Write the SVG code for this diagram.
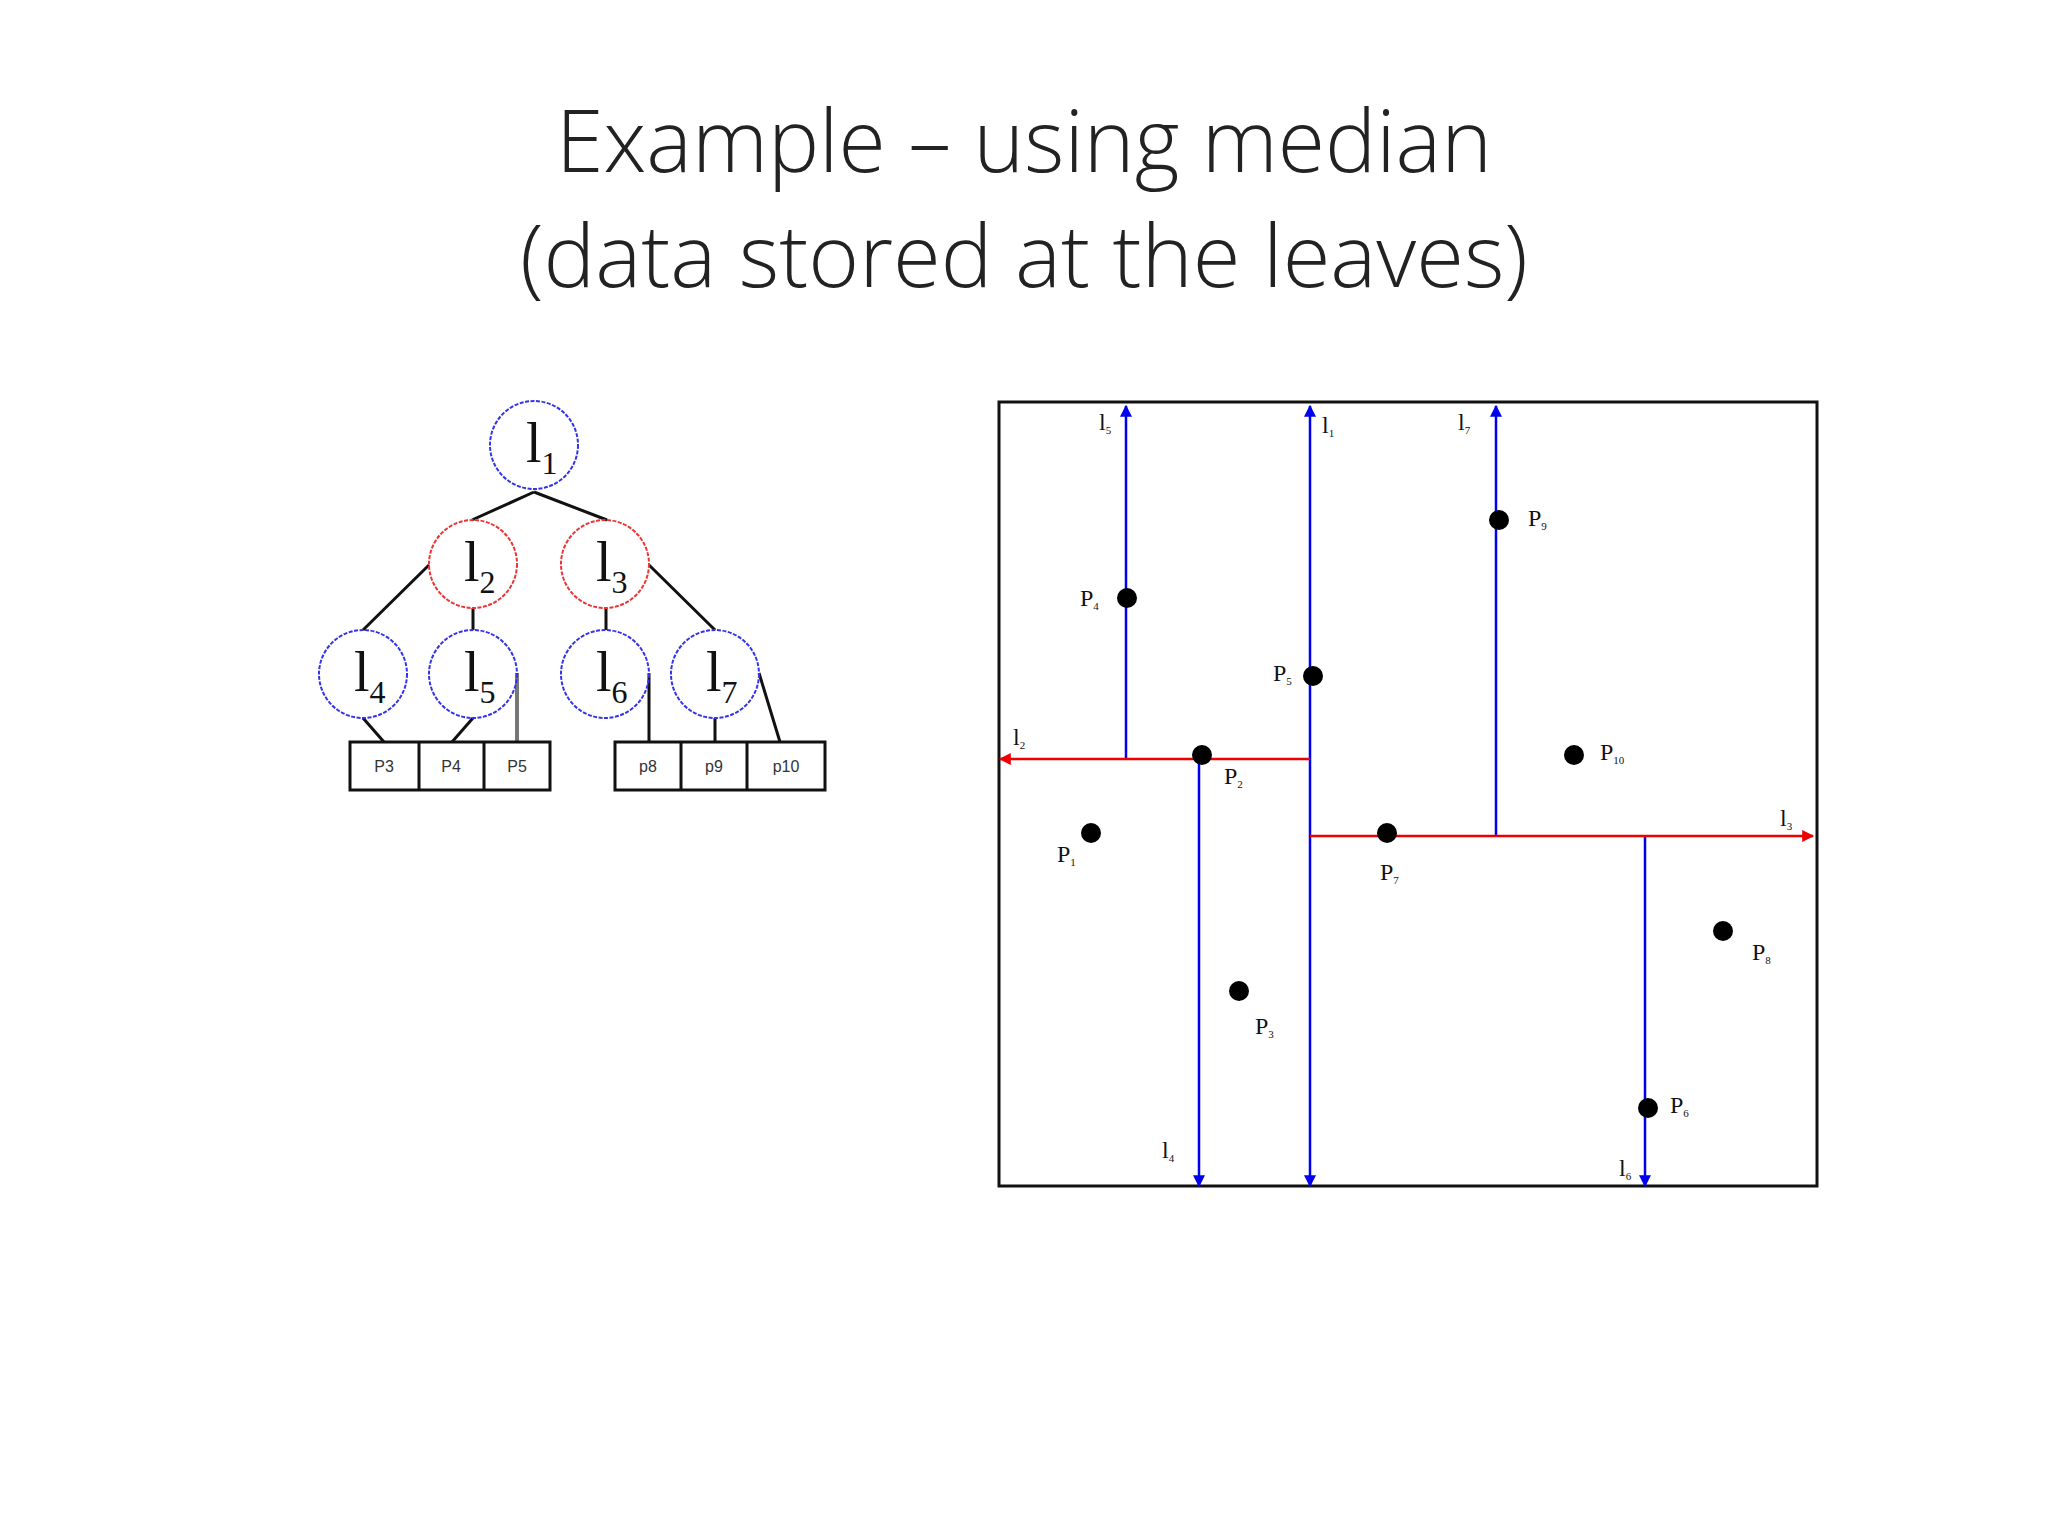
<svg xmlns="http://www.w3.org/2000/svg" width="2048" height="1536" viewBox="0 0 2048 1536">
<defs>
<marker id="ab" viewBox="0 0 10 10" refX="9" refY="5" markerWidth="20" markerHeight="12" markerUnits="userSpaceOnUse" orient="auto"><path d="M0,0 L10,5 L0,10 z" fill="#0000ee"/></marker>
<marker id="ar" viewBox="0 0 10 10" refX="9" refY="5" markerWidth="20" markerHeight="12" markerUnits="userSpaceOnUse" orient="auto"><path d="M0,0 L10,5 L0,10 z" fill="#ee0000"/></marker>
</defs>
<style>
.t{font-family:"Open Sans","Liberation Sans",sans-serif;font-weight:300;font-size:86px;fill:#222}
.cb{fill:none;stroke:#3333ee;stroke-width:2;stroke-dasharray:4 1.5}
.cr{fill:none;stroke:#ee3333;stroke-width:2;stroke-dasharray:4 1.5}
.e{stroke:#111;stroke-width:3;fill:none}
.nl{font-family:"Liberation Serif",serif;font-size:56px;fill:#111}
.ns{font-size:32px}
.bx{fill:#fff;stroke:#111;stroke-width:3}
.bt{font-family:"Liberation Sans",sans-serif;font-size:16px;fill:#333;text-anchor:middle}
.vb{stroke:#0000ee;stroke-width:2.5;fill:none}
.hr{stroke:#ee0000;stroke-width:2.5;fill:none}
.pt{fill:#000}
.pl{font-family:"Liberation Serif",serif;font-size:24px;fill:#111}
.ps{font-size:11px}
</style>
<rect width="2048" height="1536" fill="#fff"/>
<text class="t" x="1024" y="172" text-anchor="middle" textLength="936" lengthAdjust="spacingAndGlyphs">Example – using median</text>
<text class="t" x="1024" y="287" text-anchor="middle" textLength="1008" lengthAdjust="spacingAndGlyphs">(data stored at the leaves)</text>

<g id="tree-edges">
<path class="e" d="M534,492 L472,520 M534,492 L607,520 M429,565 L363,630 M473,608 L473,630 M606,608 L606,630 M649,565 L715,630 M363,718 L384,742 M473,718 L452,742 M649,673 L649,742 M715,718 L715,742 M759,673 L780,742"/>
<path d="M517,673 L517,742" stroke="#777" stroke-width="4"/>
</g>
<g id="n-l1"><circle class="cb" cx="534" cy="445" r="44"/><text class="nl" x="526" y="462">l<tspan class="ns" dy="12">1</tspan></text></g>
<g id="n-l2"><circle class="cr" cx="473" cy="564" r="44"/><text class="nl" x="464" y="581">l<tspan class="ns" dy="12">2</tspan></text></g>
<g id="n-l3"><circle class="cr" cx="605" cy="564" r="44"/><text class="nl" x="596" y="581">l<tspan class="ns" dy="12">3</tspan></text></g>
<g id="n-l4"><circle class="cb" cx="363" cy="674" r="44"/><text class="nl" x="354" y="691">l<tspan class="ns" dy="12">4</tspan></text></g>
<g id="n-l5"><circle class="cb" cx="473" cy="674" r="44"/><text class="nl" x="464" y="691">l<tspan class="ns" dy="12">5</tspan></text></g>
<g id="n-l6"><circle class="cb" cx="605" cy="674" r="44"/><text class="nl" x="596" y="691">l<tspan class="ns" dy="12">6</tspan></text></g>
<g id="n-l7"><circle class="cb" cx="715" cy="674" r="44"/><text class="nl" x="706" y="691">l<tspan class="ns" dy="12">7</tspan></text></g>
<g id="leaves-left">
<rect class="bx" x="350" y="742" width="200" height="48"/>
<path class="e" d="M419,742 V790 M484,742 V790"/>
<text class="bt" x="384" y="772">P3</text><text class="bt" x="451" y="772">P4</text><text class="bt" x="517" y="772">P5</text>
</g>
<g id="leaves-right">
<rect class="bx" x="615" y="742" width="210" height="48"/>
<path class="e" d="M681,742 V790 M747,742 V790"/>
<text class="bt" x="648" y="772">p8</text><text class="bt" x="714" y="772">p9</text><text class="bt" x="786" y="772">p10</text>
</g>

<g id="plot">
<rect x="999" y="402" width="818" height="784" fill="none" stroke="#111" stroke-width="3"/>
<g id="lines">
<path class="vb" d="M1126,759 V406" marker-end="url(#ab)"/>
<path class="vb" d="M1310,800 V406" marker-end="url(#ab)"/>
<path class="vb" d="M1310,800 V1186" marker-end="url(#ab)"/>
<path class="vb" d="M1496,836 V406" marker-end="url(#ab)"/>
<path class="vb" d="M1199,759 V1186" marker-end="url(#ab)"/>
<path class="vb" d="M1645,836 V1186" marker-end="url(#ab)"/>
<path class="hr" d="M1310,759 H1000" marker-end="url(#ar)"/>
<path class="hr" d="M1310,836 H1813" marker-end="url(#ar)"/>
</g>
<g id="points">
<circle class="pt" cx="1127" cy="598" r="10"/>
<circle class="pt" cx="1499" cy="520" r="10"/>
<circle class="pt" cx="1313" cy="676" r="10"/>
<circle class="pt" cx="1202" cy="755" r="10"/>
<circle class="pt" cx="1574" cy="755" r="10"/>
<circle class="pt" cx="1091" cy="833" r="10"/>
<circle class="pt" cx="1387" cy="833" r="10"/>
<circle class="pt" cx="1723" cy="931" r="10"/>
<circle class="pt" cx="1239" cy="991" r="10"/>
<circle class="pt" cx="1648" cy="1108" r="10"/>
</g>
<g id="labels" class="pl">
<text x="1099" y="430">l<tspan class="ps" dy="4">5</tspan></text>
<text x="1322" y="433">l<tspan class="ps" dy="4">1</tspan></text>
<text x="1458" y="430">l<tspan class="ps" dy="4">7</tspan></text>
<text x="1528" y="526">P<tspan class="ps" dy="4">9</tspan></text>
<text x="1080" y="606">P<tspan class="ps" dy="4">4</tspan></text>
<text x="1273" y="681">P<tspan class="ps" dy="4">5</tspan></text>
<text x="1013" y="745">l<tspan class="ps" dy="4">2</tspan></text>
<text x="1224" y="784">P<tspan class="ps" dy="4">2</tspan></text>
<text x="1600" y="760">P<tspan class="ps" dy="4">10</tspan></text>
<text x="1780" y="826">l<tspan class="ps" dy="4">3</tspan></text>
<text x="1057" y="862">P<tspan class="ps" dy="4">1</tspan></text>
<text x="1380" y="880">P<tspan class="ps" dy="4">7</tspan></text>
<text x="1752" y="960">P<tspan class="ps" dy="4">8</tspan></text>
<text x="1255" y="1034">P<tspan class="ps" dy="4">3</tspan></text>
<text x="1670" y="1113">P<tspan class="ps" dy="4">6</tspan></text>
<text x="1162" y="1158">l<tspan class="ps" dy="4">4</tspan></text>
<text x="1619" y="1176">l<tspan class="ps" dy="4">6</tspan></text>
</g>
</g>
</svg>
